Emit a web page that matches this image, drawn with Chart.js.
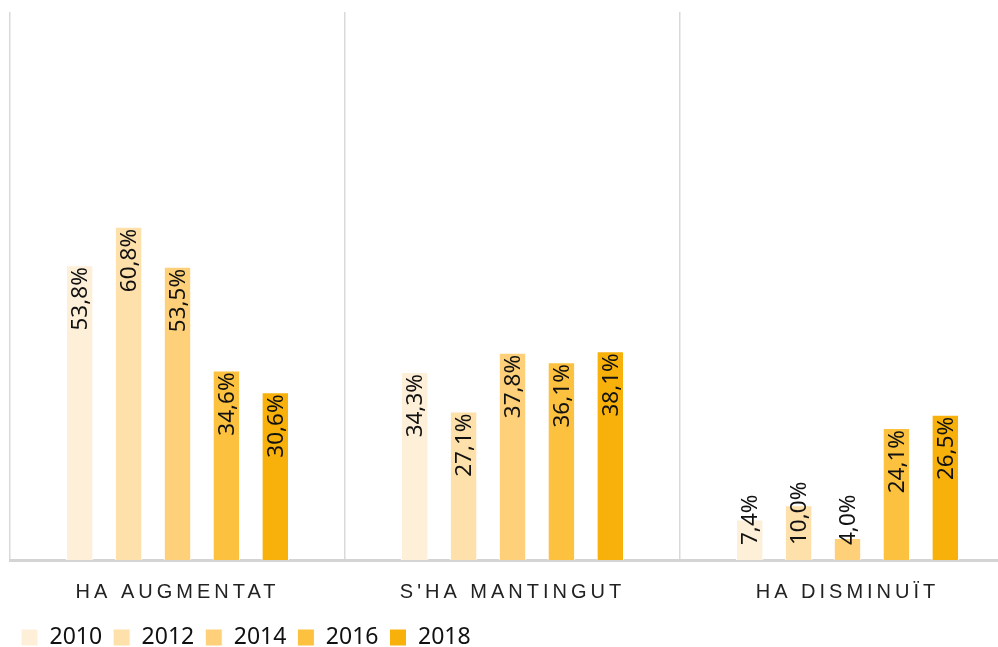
<!DOCTYPE html>
<html>
<head>
<meta charset="utf-8">
<script src="https://cdn.jsdelivr.net/npm/chart.js@4.4.0/dist/chart.umd.min.js"></script>
<style>
    html, body { margin: 0; padding: 0; overflow: hidden; background: #fff; }
    #wrap { width: 1016px; height: 647px; }
</style>
</head>
<body>
<div id="wrap"><canvas id="chart"></canvas></div>
<script>
const categories = ['HA AUGMENTAT', "S'HA MANTINGUT", 'HA DISMINUÏT'];
const years = ['2010', '2012', '2014', '2016', '2018'];
const values2010 = [53.8, 34.3, 7.4];
const values2012 = [60.8, 27.1, 10.0];
const values2014 = [53.5, 37.8, 4.0];
const values2016 = [34.6, 36.1, 24.1];
const values2018 = [30.6, 38.1, 26.5];
const colors = ['#feefd8', '#fee0aa', '#fdd079', '#fbc13f', '#f8b10b'];

const series = [values2010, values2012, values2014, values2016, values2018];

// labels inside the bars, rotated, reading bottom to top
const barLabels = {
    id: 'barLabels',
    afterDatasetsDraw(chart) {
        const ctx = chart.ctx;
        const base = chart.scales.y.getPixelForValue(0);
        ctx.save();
        ctx.font = '22.5px "Noto Sans"';
        ctx.fillStyle = '#111';
        ctx.textBaseline = 'middle';
        ctx.textAlign = 'right';
        chart.data.datasets.forEach((ds, i) => {
            chart.getDatasetMeta(i).data.forEach((bar, j) => {
                const txt = ds.data[j].toFixed(1).replace('.', ',') + '%';
                const w = ctx.measureText(txt).width;
                const top = Math.min(bar.y + 2, base - 15 - w);
                ctx.save();
                ctx.translate(bar.x + 1, top);
                ctx.rotate(-Math.PI / 2);
                ctx.fillText(txt, 0, 0);
                ctx.restore();
            });
        });
        ctx.restore();
    }
};

// spaced-out category names on the x axis
const spacedTicks = {
    id: 'spacedTicks',
    beforeDraw(chart) {
        const s = chart.scales.x;
        if (!s || s._spaced) return;
        const orig = s.drawLabels;
        s.drawLabels = function (area) {
            this.ctx.save();
            this.ctx.letterSpacing = '4px';
            orig.call(this, area);
            this.ctx.restore();
        };
        s._spaced = true;
    }
};

const chart = new Chart(document.getElementById('chart'), {
    type: 'bar',
    data: {
        labels: categories,
        datasets: years.map((y, i) => ({
            label: y,
            data: series[i],
            backgroundColor: colors[i],
            borderColor: '#ffffff',
            borderWidth: 1,
            categoryPercentage: 0.73,
            barPercentage: 0.56
        }))
    },
    options: {
        responsive: true,
        maintainAspectRatio: false,
        animation: false,
        layout: { padding: { left: 10, right: 1, top: 12, bottom: -12 } },
        scales: {
            x: {
                grid: { offset: true, color: '#d9d9d9', lineWidth: 1.5, drawTicks: false },
                border: { color: '#d4d4d4', width: 3 },
                ticks: {
                    font: { family: '"Liberation Sans"', size: 20 },
                    color: '#222',
                    padding: 20,
                    autoSkip: false,
                    maxRotation: 0
                },
                afterFit(scale) { scale.height -= 9; }
            },
            y: { display: false, min: 0, max: 100 }
        },
        plugins: {
            legend: {
                position: 'bottom',
                align: 'start',
                labels: {
                    font: { family: '"Noto Sans"', size: 23 },
                    color: '#111',
                    boxWidth: 17,
                    boxHeight: 17,
                    padding: 11
                }
            },
            tooltip: { enabled: false }
        }
    },
    plugins: [barLabels, spacedTicks]
});
</script>
</body>
</html>
